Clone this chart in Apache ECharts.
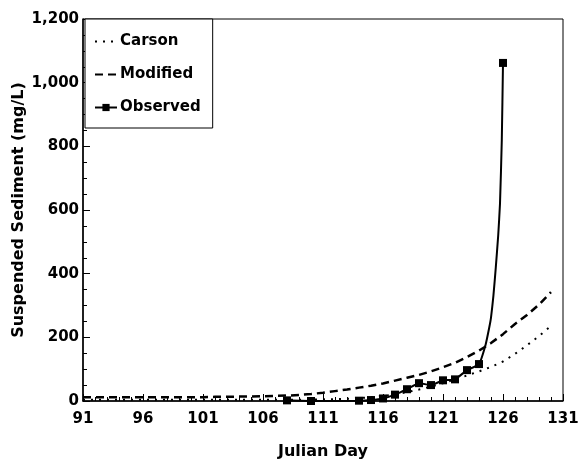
<!DOCTYPE html>
<html>
<head>
<meta charset="utf-8">
<script src="https://cdn.jsdelivr.net/npm/echarts@6/dist/echarts.min.js"></script>
<style>html,body{margin:0;padding:0;background:#fff}#c{width:578px;height:459px}</style>
</head>
<body>
<div id="c"></div>
<script>
// ---- data ----
var modelDays = [91,92,93,94,95,96,97,98,99,100,101,102,103,104,105,106,107,108,109,110,111,112,113,114,115,116,117,118,119,120,121,122,123,124,125,126,127,128,129,130];
var carsonValues = [4,4,4,4,4,4,4,4,4,4,4,4,4,4,4,4,4,4,4,4,5,6,7,9,12,16,21,28,36,45,56,68,80,93,107,124,148,175,204,236];
var modifiedValues = [12,12,12,12,12,12,12,12,12,12,12,13,13,14,14,15,16,17,19,22,26,31,36,42,48,55,64,73,82,93,106,120,138,158,182,210,242,270,303,342];
var observedDays = [108,110,114,115,116,117,118,119,120,121,122,123,124,126];
var observedValues = [2,0,1,3,8,20,37,56,50,65,68,97,116,1062];
// points traced along the drawn observed curve between day 124 and 126 (no markers)
var observedTraceDays = [124.55,124.85,125.0,125.2,125.4,125.6,125.75,125.9];
var observedTraceValues = [177,230,262,330,420,520,620,820];
var xTicks = [91,96,101,106,111,116,121,126,131];
var yTicks = [0,200,400,600,800,1000,1200];

function pairs(xs, ys){ return xs.map(function(x,i){ return [x, ys[i]]; }); }
var obsData = pairs(observedDays, observedValues).map(function(p){ return {value:p}; })
  .concat(pairs(observedTraceDays, observedTraceValues).map(function(p){ return {value:p, symbol:'none'}; }))
  .sort(function(a,b){ return a.value[0]-b.value[0]; });

var font = 'DejaVu Sans';
var hidden = {color:'rgba(0,0,0,0)',borderWidth:0,opacity:0};
var chart = echarts.init(document.getElementById('c'), null, {renderer:'canvas'});
chart.setOption({
  animation:false,
  backgroundColor:'#fff',
  grid:{left:83,right:15,top:19,bottom:58,outerBoundsMode:'none',containLabel:false,
    show:true,borderColor:'#000',borderWidth:1,backgroundColor:'transparent'},
  legend:{
    orient:'vertical', left:85, top:19,
    padding:[15,12,13,9], itemGap:18, itemWidth:22, itemHeight:9,
    borderColor:'#000', borderWidth:1, backgroundColor:'#fff',
    textStyle:{fontFamily:font,fontWeight:'bold',fontSize:15,color:'#000',padding:[0,0,0,-2]},
    data:[{name:'Carson',itemStyle:hidden},{name:'Modified',itemStyle:hidden},{name:'Observed'}]
  },
  xAxis:{
    type:'value', min:xTicks[0], max:xTicks[xTicks.length-1], interval:5,
    name:'Julian Day', nameLocation:'middle', nameGap:43, nameMoveOverlap:false,
    nameTextStyle:{fontFamily:font,fontWeight:'bold',fontSize:16,color:'#000'},
    axisLine:{lineStyle:{color:'#000',width:1.5}},
    axisTick:{inside:true,length:7,lineStyle:{color:'#000',width:1}},
    minorTick:{show:true,splitNumber:5,length:4,lineStyle:{color:'#000',width:1}},
    splitLine:{show:false},
    axisLabel:{fontFamily:font,fontWeight:'bold',fontSize:15,color:'#000',margin:11,showMaxLabel:true,showMinLabel:true}
  },
  yAxis:{
    type:'value', min:yTicks[0], max:yTicks[yTicks.length-1], interval:200,
    name:'Suspended Sediment (mg/L)', nameLocation:'middle', nameGap:56, nameMoveOverlap:false,
    nameTextStyle:{fontFamily:font,fontWeight:'bold',fontSize:16,color:'#000'},
    axisLine:{lineStyle:{color:'#000',width:1.5}},
    axisTick:{inside:true,length:7,lineStyle:{color:'#000',width:1}},
    minorTick:{show:true,splitNumber:4,length:4,lineStyle:{color:'#000',width:1}},
    splitLine:{show:false},
    axisLabel:{fontFamily:font,fontWeight:'bold',fontSize:15,color:'#000',margin:4,
      formatter:function(v){ return v.toLocaleString('en-US'); }}
  },
  series:[
    {name:'Carson',type:'line',data:pairs(modelDays,carsonValues),symbol:'none',
      lineStyle:{color:'#000',width:2,type:[2,6]},itemStyle:{color:'#000'},z:2},
    {name:'Modified',type:'line',data:pairs(modelDays,modifiedValues),symbol:'none',
      lineStyle:{color:'#000',width:2.5,type:[8,5]},itemStyle:{color:'#000'},z:2},
    {name:'Observed',type:'line',data:obsData,symbol:'rect',symbolSize:8,smooth:0.15,
      lineStyle:{color:'#000',width:2},itemStyle:{color:'#000'},z:3}
  ]
});
</script>
</body>
</html>
